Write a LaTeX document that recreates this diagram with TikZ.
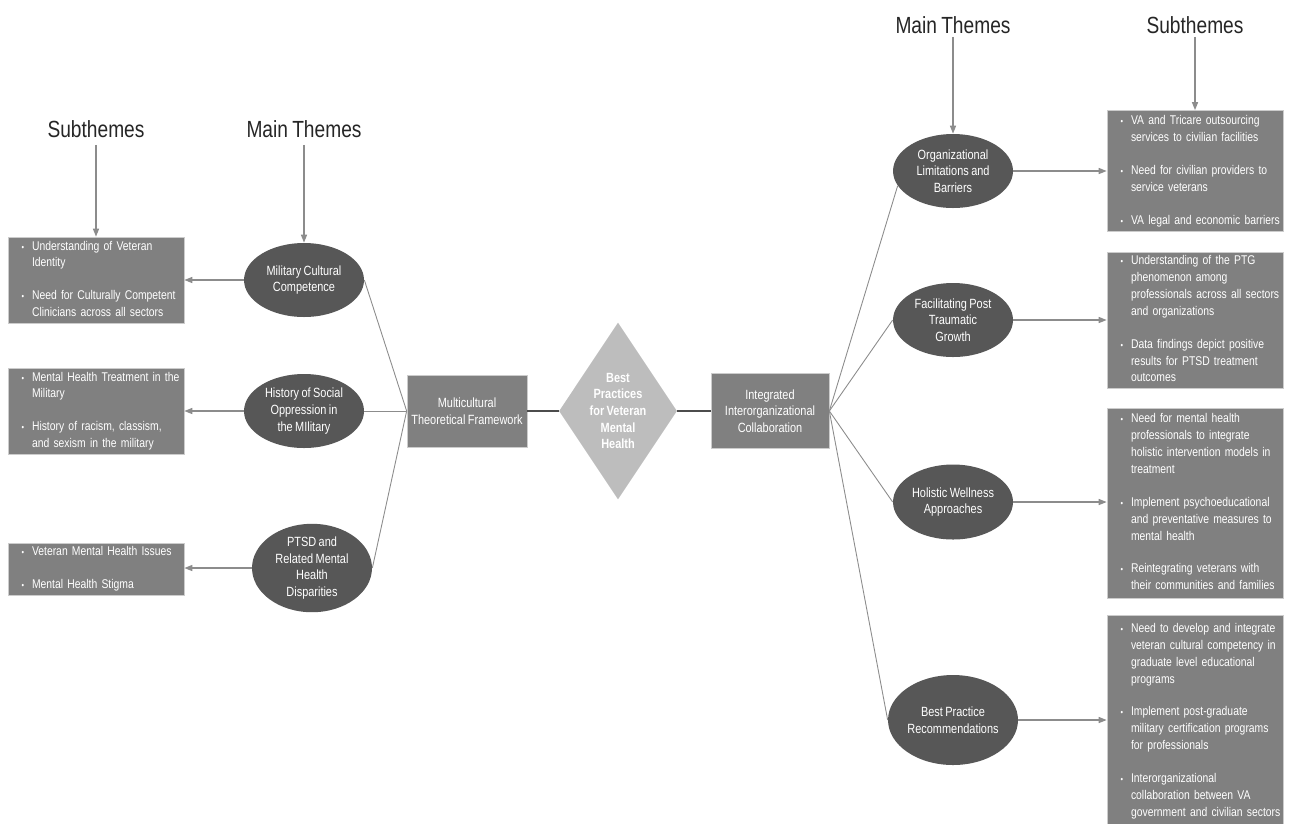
\documentclass[tikz,border=0pt]{standalone}
\usepackage{fontspec}
\setmainfont[FakeStretch=0.82, WordSpace=0.8]{Liberation Sans}
\usetikzlibrary{shapes.geometric, arrows.meta}

\definecolor{boxgray}{gray}{0.50}
\definecolor{ellgray}{gray}{0.34}
\definecolor{dmdgray}{gray}{0.74}
\definecolor{linegray}{gray}{0.55}

\newcommand{\boxfont}{\fontsize{7.6}{9.5}\selectfont}
\newcommand{\subfont}{\fontsize{7.2}{9.6}\selectfont}
\newcommand{\headfont}{\fontsize{13.3}{16}\selectfont}
\newcommand{\bul}{\makebox[0.21cm][l]{\fontsize{5}{5}\selectfont\textbullet}}
\newcommand{\subrows}[1]{\begin{tabular}{@{\hspace{0.27cm}}l@{}l@{}}#1\end{tabular}}

\tikzset{
  subbox/.style={rectangle, fill=boxgray, draw=gray!40, text=white, text width=3.52cm,
    minimum height=#1, inner sep=0pt, align=left, font=\subfont},
  theme/.style={ellipse, fill=ellgray, text=white, inner sep=0pt, align=center,
    font=\boxfont, minimum width=2.4cm, minimum height=1.48cm},
  hub/.style={rectangle, fill=boxgray, draw=gray!40, text=white, align=center,
    font=\boxfont, inner sep=0pt, minimum width=2.4cm, minimum height=1.44cm},
  heading/.style={font=\headfont, text=black!85, inner sep=0pt},
  link/.style={draw=linegray, line width=0.5pt},
  hublink/.style={draw=gray!60!black, line width=1.1pt},
  arrow/.style={draw=linegray, line width=0.8pt, -{Triangle[length=0.16cm, width=0.12cm]}}
}

\begin{document}
\begin{tikzpicture}[x=0.02cm, y=-0.02cm]

\path [fill=white] ( 0, 0 ) rectangle ( 1293, 823 );
\useasboundingbox ( 0, 0 ) rectangle ( 1293, 823 );

% Headings
\node [heading] (subL) at ( 96, 129 ) {Subthemes};
\node [heading] (mainL) at ( 304, 129 ) {Main Themes};
\node [heading] (mainR) at ( 953, 25 ) {Main Themes};
\node [heading] (subR) at ( 1195, 25 ) {Subthemes};

% Core
\node [diamond, fill=dmdgray, text=white, font=\boxfont\bfseries, align=center,
  inner sep=0pt, aspect=0.667, minimum width=2.36cm, minimum height=3.54cm]
  (core) at ( 618, 411 ) {Best\\Practices\\for Veteran\\Mental\\Health};
\node [hub] (mcf) at ( 467, 411 ) {Multicultural\\Theoretical Framework};
\node [hub, minimum width=2.36cm, minimum height=1.5cm] (iic) at ( 770, 411 )
  {Integrated\\Interorganizational\\Collaboration};

% Left main themes
\node [theme] (mil) at ( 304, 280 ) {Military Cultural\\Competence};
\node [theme] (opp) at ( 304, 411 ) {History of Social\\Oppression in\\the MIlitary};
\node [theme, minimum height=1.76cm] (ptsd) at ( 312, 568 )
  {PTSD and\\Related Mental\\Health\\Disparities};

% Left subthemes
\node [subbox=1.72cm] (milbox) at ( 96, 280 ) {\subrows{
  \bul & Understanding of Veteran\\
       & Identity\\[9.1pt]
  \bul & Need for Culturally Competent\\
       & Clinicians across all sectors}};
\node [subbox=1.72cm] (oppbox) at ( 96, 411 ) {\subrows{
  \bul & Mental Health Treatment in the\\
       & Military\\[9.1pt]
  \bul & History of racism, classism,\\
       & and sexism in the military}};
\node [subbox=1.04cm] (ptsdbox) at ( 96, 569 ) {\subrows{
  \bul & Veteran Mental Health Issues\\[9.1pt]
  \bul & Mental Health Stigma}};

% Right main themes
\node [theme] (org) at ( 953, 171 ) {Organizational\\Limitations and\\Barriers};
\node [theme] (ptg) at ( 953, 320 ) {Facilitating Post\\Traumatic\\Growth};
\node [theme, minimum height=1.5cm] (hol) at ( 953, 502 ) {Holistic Wellness\\Approaches};
\node [theme, minimum width=2.6cm, minimum height=1.8cm] (bpr) at ( 953, 720 )
  {Best Practice\\Recommendations};

% Right subthemes
\node [subbox=2.42cm] (orgbox) at ( 1195, 171 ) {\subrows{
  \bul & VA and Tricare outsourcing\\
       & services to civilian facilities\\[9.1pt]
  \bul & Need for civilian providers to\\
       & service veterans\\[9.1pt]
  \bul & VA legal and economic barriers}};
\node [subbox=2.72cm] (ptgbox) at ( 1195, 320 ) {\subrows{
  \bul & Understanding of the PTG\\
       & phenomenon among\\
       & professionals across all sectors\\
       & and organizations\\[9.1pt]
  \bul & Data findings depict positive\\
       & results for PTSD treatment\\
       & outcomes}};
\node [subbox=3.8cm] (holbox) at ( 1195, 503 ) {\subrows{
  \bul & Need for mental health\\
       & professionals to integrate\\
       & holistic intervention models in\\
       & treatment\\[9.1pt]
  \bul & Implement psychoeducational\\
       & and preventative measures to\\
       & mental health\\[9.1pt]
  \bul & Reintegrating veterans with\\
       & their communities and families}};
\node [subbox=4.24cm] (bprbox) at ( 1195, 721 ) {\subrows{
  \bul & Need to develop and integrate\\
       & veteran cultural competency in\\
       & graduate level educational\\
       & programs\\[9.1pt]
  \bul & Implement post-graduate\\
       & military certification programs\\
       & for professionals\\[9.1pt]
  \bul & Interorganizational\\
       & collaboration between VA\\
       & government and civilian sectors}};

% Heading arrows
\draw [arrow, shorten <=0.14cm] (subL.south) -- (subL.south |- milbox.north);
\draw [arrow, shorten <=0.14cm] (mainL.south) -- (mil.north);
\draw [arrow, shorten <=0.06cm] (mainR.south) -- (org.north);
\draw [arrow, shorten <=0.06cm] (subR.south) -- (subR.south |- orgbox.north);

% Hub links
\draw [hublink] (mcf.east) -- (core.west);
\draw [hublink] (core.east) -- (iic.west);
\draw [link] (mcf.west) -- (mil.east);
\draw [link] (mcf.west) -- (opp.east);
\draw [link] (mcf.west) -- (ptsd.east);
\draw [link] (iic.east) -- (org.195);
\draw [link] (iic.east) -- (ptg.west);
\draw [link] (iic.east) -- (hol.west);
\draw [link] (iic.east) -- (bpr.west);

% Theme to subtheme arrows
\draw [arrow] (mil.west) -- (mil.west -| milbox.east);
\draw [arrow] (opp.west) -- (opp.west -| oppbox.east);
\draw [arrow] (ptsd.west) -- (ptsd.west -| ptsdbox.east);
\draw [arrow] (org.east) -- (org.east -| orgbox.west);
\draw [arrow] (ptg.east) -- (ptg.east -| ptgbox.west);
\draw [arrow] (hol.east) -- (hol.east -| holbox.west);
\draw [arrow] (bpr.east) -- (bpr.east -| bprbox.west);

\end{tikzpicture}
\end{document}
